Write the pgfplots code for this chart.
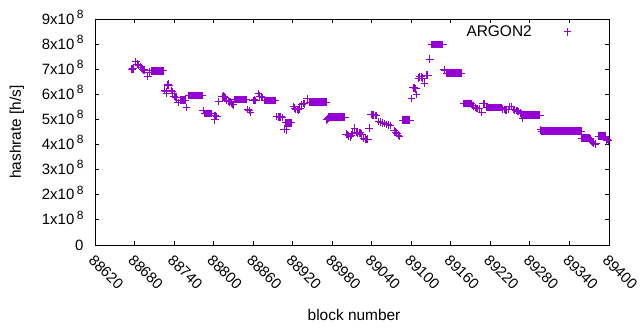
\documentclass[border=0pt]{standalone}
\usepackage{fontspec}
\setmainfont{Liberation Sans}
\usepackage{pgfplots}
\usepackage{pgfplotstable}
\pgfplotsset{compat=1.18}
\definecolor{gpviolet}{RGB}{148,0,211}
\newcommand{\yl}[1]{#1x10\,\raisebox{0.38em}{\fontsize{12}{12}\selectfont 8}}

% hashrate in units of 10^8 h/s
\pgfplotstableread[row sep=\\]{
x y\\
88676 7.00\\ 88677 7.01\\ 88678 7.02\\ 88682 7.30\\ 88684 7.20\\ 88686 7.15\\ 88689 7.08\\ 88690 7.06\\ 88692 7.00\\ 88694 6.97\\ 88695 6.96\\ 88700 6.72\\ 88702 6.86\\ 88703 6.88\\
88706 6.93\\ 88707 6.93\\ 88708 6.93\\ 88709 6.93\\ 88710 6.93\\ 88711 6.93\\ 88712 6.93\\ 88713 6.93\\ 88714 6.93\\ 88715 6.93\\ 88716 6.93\\ 88717 6.93\\ 88718 6.93\\ 88719 6.93\\ 88720 6.93\\ 88721 6.93\\ 88722 6.93\\ 88723 6.93\\ 88724 6.93\\
88726 6.17\\ 88728 6.10\\ 88729 6.04\\ 88730 6.37\\ 88731 6.40\\ 88732 6.35\\ 88736 6.15\\ 88737 6.10\\ 88738 6.05\\ 88740 5.93\\ 88742 5.88\\ 88743 5.86\\ 88746 5.67\\
88749 5.77\\ 88750 5.77\\ 88751 5.77\\ 88752 5.77\\ 88753 5.77\\ 88754 5.77\\ 88755 5.77\\ 88756 5.77\\ 88757 5.77\\
88759 5.48\\
88762 5.96\\ 88763 5.96\\ 88764 5.96\\ 88765 5.96\\ 88766 5.96\\ 88767 5.96\\ 88768 5.96\\ 88769 5.96\\ 88770 5.96\\ 88771 5.96\\ 88772 5.96\\ 88773 5.96\\ 88774 5.96\\ 88775 5.96\\ 88776 5.96\\ 88777 5.96\\ 88778 5.96\\ 88779 5.96\\ 88780 5.96\\ 88781 5.96\\ 88782 5.96\\ 88783 5.96\\
88784 5.35\\
88786 5.24\\ 88787 5.24\\ 88788 5.24\\ 88789 5.24\\ 88790 5.24\\ 88791 5.24\\ 88792 5.24\\ 88793 5.24\\ 88794 5.24\\ 88795 5.24\\ 88796 5.24\\ 88797 5.24\\
88801 5.14\\ 88802 4.98\\ 88803 5.16\\ 88805 5.12\\ 88808 5.71\\ 88813 5.90\\ 88814 5.92\\ 88815 5.93\\ 88816 5.90\\ 88818 5.88\\ 88820 5.75\\ 88822 5.72\\ 88824 5.70\\ 88825 5.71\\ 88827 5.66\\ 88829 5.60\\ 88830 5.58\\
88832 5.79\\ 88833 5.79\\ 88834 5.79\\ 88835 5.79\\ 88836 5.79\\ 88837 5.79\\ 88838 5.79\\ 88839 5.79\\ 88840 5.79\\ 88841 5.79\\ 88842 5.79\\ 88843 5.79\\ 88844 5.79\\ 88845 5.79\\ 88846 5.79\\ 88847 5.79\\ 88848 5.79\\ 88849 5.79\\ 88850 5.79\\
88852 5.40\\ 88854 5.36\\ 88856 5.27\\ 88860 5.76\\ 88862 5.78\\ 88864 5.76\\ 88868 6.04\\ 88870 5.93\\ 88872 5.91\\ 88874 5.88\\
88877 5.76\\ 88878 5.76\\ 88879 5.76\\ 88880 5.76\\ 88881 5.76\\ 88882 5.76\\ 88883 5.76\\ 88884 5.76\\ 88885 5.76\\ 88886 5.76\\ 88887 5.76\\ 88888 5.76\\ 88889 5.76\\ 88890 5.76\\ 88891 5.76\\ 88892 5.76\\ 88893 5.76\\ 88894 5.76\\
88896 5.12\\ 88898 5.10\\ 88900 5.09\\ 88902 5.10\\ 88904 5.08\\ 88907 4.61\\
88909 4.87\\ 88910 4.58\\ 88911 4.87\\ 88912 4.87\\ 88913 4.87\\ 88914 4.87\\ 88915 4.87\\ 88916 4.87\\ 88917 4.87\\ 88918 4.87\\
88921 5.51\\ 88923 5.45\\ 88925 5.40\\ 88927 5.40\\ 88929 5.38\\ 88931 5.42\\ 88934 5.60\\ 88936 5.64\\ 88938 5.62\\ 88942 5.84\\
88946 5.69\\ 88947 5.69\\ 88948 5.69\\ 88949 5.69\\ 88950 5.69\\ 88951 5.69\\ 88952 5.69\\ 88953 5.69\\ 88954 5.69\\ 88955 5.69\\ 88956 5.69\\ 88957 5.69\\ 88958 5.69\\ 88959 5.69\\ 88960 5.69\\ 88961 5.69\\ 88962 5.69\\ 88963 5.69\\ 88964 5.69\\ 88965 5.69\\ 88966 5.69\\ 88967 5.69\\ 88968 5.69\\ 88969 5.69\\ 88970 5.69\\ 88971 5.69\\
88972 4.98\\ 88973 5.02\\ 88974 5.05\\
88975 5.09\\ 88976 5.09\\ 88977 5.09\\ 88978 5.09\\ 88979 5.09\\ 88980 5.09\\ 88981 5.09\\ 88982 5.09\\ 88983 5.09\\ 88984 5.09\\ 88985 5.09\\ 88986 5.09\\ 88987 5.09\\ 88988 5.09\\ 88989 5.09\\ 88990 5.09\\ 88991 5.09\\ 88992 5.09\\ 88993 5.09\\ 88994 5.09\\ 88995 5.09\\ 88996 5.09\\ 88997 5.09\\ 88998 5.09\\ 88999 5.09\\
89001 4.42\\ 89003 4.40\\ 89005 4.35\\ 89007 4.31\\ 89009 4.38\\ 89011 4.45\\ 89014 4.65\\ 89017 4.48\\ 89019 4.45\\ 89021 4.45\\ 89023 4.47\\ 89025 4.42\\ 89028 4.25\\ 89030 4.22\\ 89032 4.20\\ 89034 4.22\\ 89036 4.65\\
89039 5.20\\ 89041 5.18\\ 89043 5.18\\ 89045 5.16\\ 89047 5.15\\
89050 4.92\\ 89053 4.89\\ 89056 4.87\\ 89059 4.84\\ 89062 4.80\\ 89065 4.78\\ 89068 4.76\\
89074 4.55\\ 89076 4.50\\ 89078 4.45\\ 89080 4.38\\ 89082 4.34\\
89087 4.97\\ 89088 4.97\\ 89089 4.97\\ 89090 4.97\\ 89091 4.97\\ 89092 4.97\\ 89093 4.97\\ 89094 4.97\\ 89095 4.97\\ 89096 4.97\\ 89097 4.97\\ 89098 4.97\\
89100 5.84\\ 89103 6.26\\ 89105 6.26\\ 89107 6.22\\ 89108 6.00\\ 89111 6.65\\ 89113 6.70\\ 89115 6.70\\ 89117 6.65\\ 89120 6.44\\ 89123 6.77\\ 89125 6.77\\ 89128 7.40\\
89131 7.99\\ 89132 7.99\\ 89133 7.99\\ 89134 7.99\\ 89135 7.99\\ 89136 7.99\\ 89137 7.99\\ 89138 7.99\\ 89139 7.99\\ 89140 7.99\\ 89141 7.99\\ 89142 7.99\\ 89143 7.99\\ 89144 7.99\\ 89145 7.99\\ 89146 7.99\\ 89147 7.99\\ 89148 7.99\\
89150 6.97\\ 89151 6.95\\
89154 6.84\\ 89155 6.84\\ 89156 6.84\\ 89157 6.84\\ 89158 6.84\\ 89159 6.84\\ 89160 6.84\\ 89161 6.84\\ 89162 6.84\\ 89163 6.84\\ 89164 6.84\\ 89165 6.84\\ 89166 6.84\\ 89167 6.84\\ 89168 6.84\\ 89169 6.84\\ 89170 6.84\\ 89171 6.84\\ 89172 6.84\\ 89173 6.84\\ 89174 6.84\\ 89175 6.84\\ 89176 6.84\\
89179 5.64\\ 89180 5.64\\ 89181 5.64\\ 89182 5.64\\ 89183 5.64\\ 89184 5.64\\ 89185 5.64\\ 89186 5.64\\ 89187 5.64\\ 89188 5.64\\ 89189 5.64\\ 89190 5.64\\ 89191 5.64\\
89193 5.56\\ 89195 5.54\\ 89197 5.48\\ 89199 5.44\\ 89201 5.44\\ 89203 5.42\\ 89207 5.27\\ 89209 5.62\\ 89211 5.64\\
89214 5.47\\ 89215 5.47\\ 89216 5.47\\ 89217 5.47\\ 89218 5.47\\ 89219 5.47\\ 89220 5.47\\ 89221 5.47\\ 89222 5.47\\ 89223 5.47\\ 89224 5.47\\ 89225 5.47\\ 89226 5.47\\ 89227 5.47\\ 89228 5.47\\ 89229 5.47\\ 89230 5.47\\ 89231 5.47\\ 89232 5.47\\ 89233 5.47\\ 89234 5.47\\ 89235 5.47\\ 89236 5.47\\ 89237 5.47\\
89239 5.42\\ 89241 5.40\\ 89243 5.38\\ 89245 5.38\\ 89247 5.40\\ 89249 5.51\\ 89252 5.51\\ 89255 5.40\\ 89257 5.38\\ 89259 5.36\\ 89261 5.33\\ 89263 5.31\\ 89265 5.26\\ 89267 5.22\\ 89269 5.05\\ 89270 5.20\\
89272 5.17\\ 89273 5.17\\ 89274 5.17\\ 89275 5.17\\ 89276 5.17\\ 89277 5.17\\ 89278 5.17\\ 89279 5.17\\ 89280 5.17\\ 89281 5.17\\ 89282 5.17\\ 89283 5.17\\ 89284 5.17\\ 89285 5.17\\ 89286 5.17\\ 89287 5.17\\ 89288 5.17\\ 89289 5.17\\ 89290 5.17\\ 89291 5.17\\ 89292 5.17\\ 89293 5.17\\ 89294 5.17\\ 89295 5.17\\
89296 4.58\\
89298 4.53\\ 89299 4.53\\ 89300 4.53\\ 89301 4.53\\ 89302 4.53\\ 89303 4.53\\ 89304 4.53\\ 89305 4.53\\ 89306 4.53\\ 89307 4.53\\ 89308 4.53\\ 89309 4.53\\ 89310 4.53\\ 89311 4.53\\ 89312 4.53\\ 89313 4.53\\ 89314 4.53\\ 89315 4.53\\ 89316 4.53\\ 89317 4.53\\ 89318 4.53\\ 89319 4.53\\ 89320 4.53\\ 89321 4.53\\ 89322 4.53\\ 89323 4.53\\ 89324 4.53\\ 89325 4.53\\ 89326 4.53\\ 89327 4.53\\
89328 4.53\\ 89329 4.53\\ 89330 4.53\\ 89331 4.53\\ 89332 4.53\\ 89333 4.53\\ 89334 4.53\\ 89335 4.53\\ 89336 4.53\\ 89337 4.53\\ 89338 4.53\\ 89339 4.53\\ 89340 4.53\\ 89341 4.53\\ 89342 4.53\\ 89343 4.53\\ 89344 4.53\\ 89345 4.53\\ 89346 4.53\\ 89347 4.53\\ 89348 4.53\\ 89349 4.53\\ 89350 4.53\\ 89351 4.53\\ 89352 4.53\\ 89353 4.53\\ 89354 4.53\\ 89355 4.53\\ 89356 4.53\\ 89357 4.53\\ 89358 4.53\\
89359 4.25\\ 89360 4.25\\ 89361 4.25\\ 89362 4.25\\ 89363 4.25\\ 89364 4.25\\ 89365 4.25\\ 89366 4.25\\ 89367 4.25\\ 89368 4.25\\ 89369 4.25\\ 89370 4.25\\ 89371 4.25\\ 89372 4.22\\
89373 4.13\\ 89375 4.10\\ 89377 4.06\\ 89379 4.01\\ 89380 4.03\\
89384 4.33\\ 89385 4.33\\ 89386 4.33\\ 89387 4.33\\ 89388 4.33\\ 89389 4.33\\ 89390 4.33\\ 89391 4.33\\ 89392 4.33\\ 89393 4.33\\ 89394 4.33\\
89396 4.15\\ 89398 4.20\\ 89399 4.18\\
}\hashdata

\begin{document}
\begin{tikzpicture}[x=1bp,y=1bp]
\useasboundingbox (0,0) rectangle (640,330);
\begin{axis}[
  at={(95bp,85bp)}, anchor=south west,
  scale only axis, width=514bp, height=226bp,
  xmin=88620, xmax=89400, ymin=0, ymax=9,
  scaled x ticks=false, scaled y ticks=false,
  xtick={88620,88680,88740,88800,88860,88920,88980,89040,89100,89160,89220,89280,89340,89400},
  xticklabels={88620,88680,88740,88800,88860,88920,88980,89040,89100,89160,89220,89280,89340,89400},
  ytick={0,1,2,3,4,5,6,7,8,9},
  yticklabels={0,\yl{1},\yl{2},\yl{3},\yl{4},\yl{5},\yl{6},\yl{7},\yl{8},\yl{9}},
  tick align=inside,
  major tick length=4bp,
  axis line style={line width=1bp, black},
  tick style={line width=1bp, black},
  xticklabel style={font=\fontsize{15}{15}\selectfont, xshift=-6bp, yshift=-10bp, rotate=-45, anchor=west},
  yticklabel style={font=\fontsize{15}{15}\selectfont, anchor=base east, xshift=-8bp, yshift=-5bp},
  xlabel={block number},
  ylabel={hashrate [h/s]},
  xlabel style={font=\fontsize{15.5}{15.5}\selectfont, at={(axis description cs:0.504,-0.31)}, anchor=center},
  ylabel style={font=\fontsize{15.5}{15.5}\selectfont, at={(axis description cs:-0.152,0.5)}, anchor=center},
  legend plot pos=right,
  legend cell align=right,
  legend style={at={(axis description cs:0.9329,0.9425)}, anchor=east, draw=none, fill=none,
    font=\fontsize{15.5}{15.5}\selectfont,
    /tikz/every odd column/.append style={column sep=30bp}},
  clip=true,
]
\addplot[only marks, mark=+, color=gpviolet, mark size=3.8bp, line width=1bp] table[x=x, y=y] {\hashdata};
\addlegendentry{ARGON2}
\end{axis}
\end{tikzpicture}
\end{document}
